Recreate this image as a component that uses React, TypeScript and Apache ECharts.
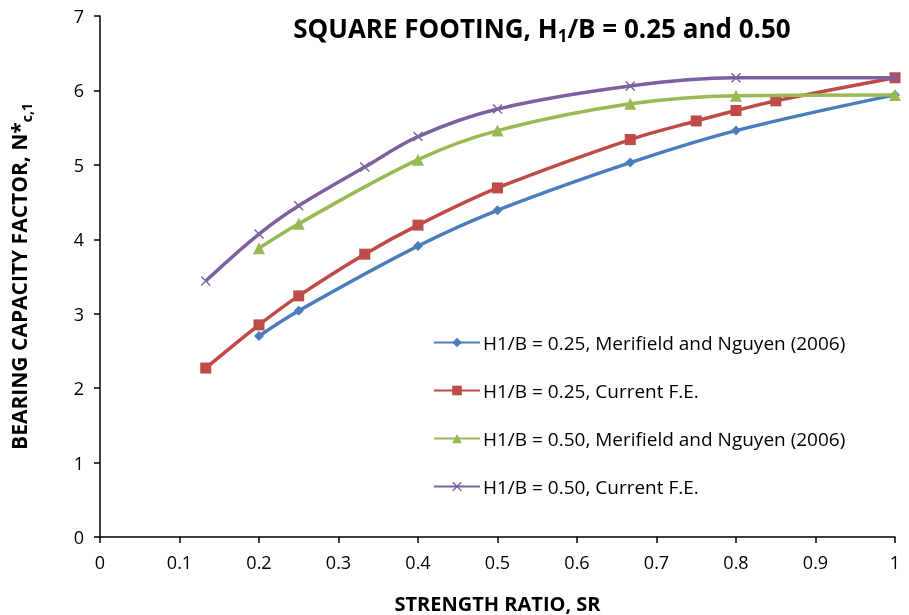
import React, { useEffect, useRef } from "react";
import * as echarts from "echarts";

const seriesNames = [
  "H1/B = 0.25, Merifield and Nguyen (2006)",
  "H1/B = 0.25, Current F.E.",
  "H1/B = 0.50, Merifield and Nguyen (2006)",
  "H1/B = 0.50, Current F.E.",
];

const blueX = [0.2, 0.25, 0.4, 0.5, 0.667, 0.8, 1.0];
const blueY = [2.7, 3.04, 3.91, 4.39, 5.03, 5.46, 5.94];

const redX = [0.133, 0.2, 0.25, 0.333, 0.4, 0.5, 0.667, 0.75, 0.8, 0.85, 1.0];
const redY = [2.27, 2.85, 3.24, 3.8, 4.19, 4.69, 5.34, 5.59, 5.73, 5.86, 6.17];

const greenX = [0.2, 0.25, 0.4, 0.5, 0.667, 0.8, 1.0];
const greenY = [3.88, 4.21, 5.07, 5.46, 5.82, 5.93, 5.94];

const purpleX = [0.133, 0.2, 0.25, 0.333, 0.4, 0.5, 0.667, 0.8, 1.0];
const purpleY = [3.44, 4.07, 4.45, 4.97, 5.38, 5.75, 6.06, 6.17, 6.17];

const colors = ["#4a7ebb", "#be4b48", "#98b954", "#7d60a0"];

const crossPath =
  "path://M0,1 L1,0 L5,4 L9,0 L10,1 L6,5 L10,9 L9,10 L5,6 L1,10 L0,9 L4,5 Z";

const FONT = "'Open Sans', 'Noto Sans', sans-serif";

function zip(xs: number[], ys: number[]) {
  return xs.map((x, i) => [x, ys[i]]);
}

export default function App() {
  const ref = useRef<HTMLDivElement>(null);
  useEffect(() => {
    if (!ref.current) return;
    const chart = echarts.init(ref.current, null, { renderer: "svg" });
    const mk = (
      i: number,
      xs: number[],
      ys: number[],
      symbol: string,
      size: number
    ) => ({
      name: seriesNames[i],
      type: "line",
      smooth: 0.35,
      data: zip(xs, ys),
      symbol,
      symbolSize: size,
      showAllSymbol: true,
      lineStyle: { color: colors[i], width: 3.5 },
      itemStyle: { color: colors[i] },
      z: 2 + i,
    });
    chart.setOption({
      animation: false,
      color: colors,
      title: {
        text: "SQUARE FOOTING, H{sub|1}/B = 0.25 and 0.50",
        left: 537,
        top: 6,
        textAlign: "center",
        textStyle: {
          fontFamily: FONT,
          fontWeight: "bold",
          fontSize: 26,
          color: "#000",
          rich: {
            sub: {
              fontFamily: FONT,
              fontWeight: "bold",
              fontSize: 17,
              color: "#000",
              padding: [16, 0, 0, 0],
            },
          },
        },
      },
      legend: {
        orient: "vertical",
        left: 428,
        top: 328,
        itemWidth: 46,
        itemHeight: 12,
        itemGap: 29,
        textStyle: { fontFamily: FONT, fontSize: 19, color: "#000", padding: [0, 0, 0, -2] },
        data: seriesNames,
      },
      grid: {
        left: 100,
        right: 14,
        top: 16,
        bottom: 78,
        containLabel: false,
        outerBoundsMode: "none",
      },
      xAxis: {
        type: "value",
        min: 0,
        max: 1,
        interval: 0.1,
        name: "STRENGTH RATIO, SR",
        nameLocation: "middle",
        nameGap: 56,
        nameTextStyle: {
          fontFamily: FONT,
          fontWeight: "bold",
          fontSize: 20,
          lineHeight: 20,
          color: "#000",
        },
        axisLine: { show: true, lineStyle: { color: "#000", width: 1.5 } },
        axisTick: { show: true, length: 6, lineStyle: { color: "#000", width: 1.5 } },
        axisLabel: { fontFamily: FONT, fontSize: 18, color: "#000", margin: 16 },
        splitLine: { show: false },
      },
      yAxis: {
        type: "value",
        min: 0,
        max: 7,
        interval: 1,
        name: "BEARING CAPACITY FACTOR, N*{sub|c,1}",
        nameLocation: "middle",
        nameGap: 67,
        nameTextStyle: {
          fontFamily: FONT,
          fontWeight: "bold",
          fontSize: 21,
          color: "#000",
          rich: {
            sub: {
              fontFamily: FONT,
              fontWeight: "bold",
              fontSize: 14,
              color: "#000",
              padding: [14, 0, 0, 0],
            },
          },
        },
        axisLine: { show: true, lineStyle: { color: "#000", width: 1.5 } },
        axisTick: { show: true, length: 6, lineStyle: { color: "#000", width: 1.5 } },
        axisLabel: { fontFamily: FONT, fontSize: 18, color: "#000", margin: 16 },
        splitLine: { show: false },
      },
      series: [
        mk(0, blueX, blueY, "diamond", 10),
        mk(1, redX, redY, "rect", 11),
        mk(2, greenX, greenY, "triangle", 12),
        mk(3, purpleX, purpleY, crossPath, 10),
      ],
    });
    return () => chart.dispose();
  }, []);
  return (
    <div
      ref={ref}
      style={{ position: "fixed", left: 0, top: 0, width: 909, height: 615 }}
    />
  );
}
